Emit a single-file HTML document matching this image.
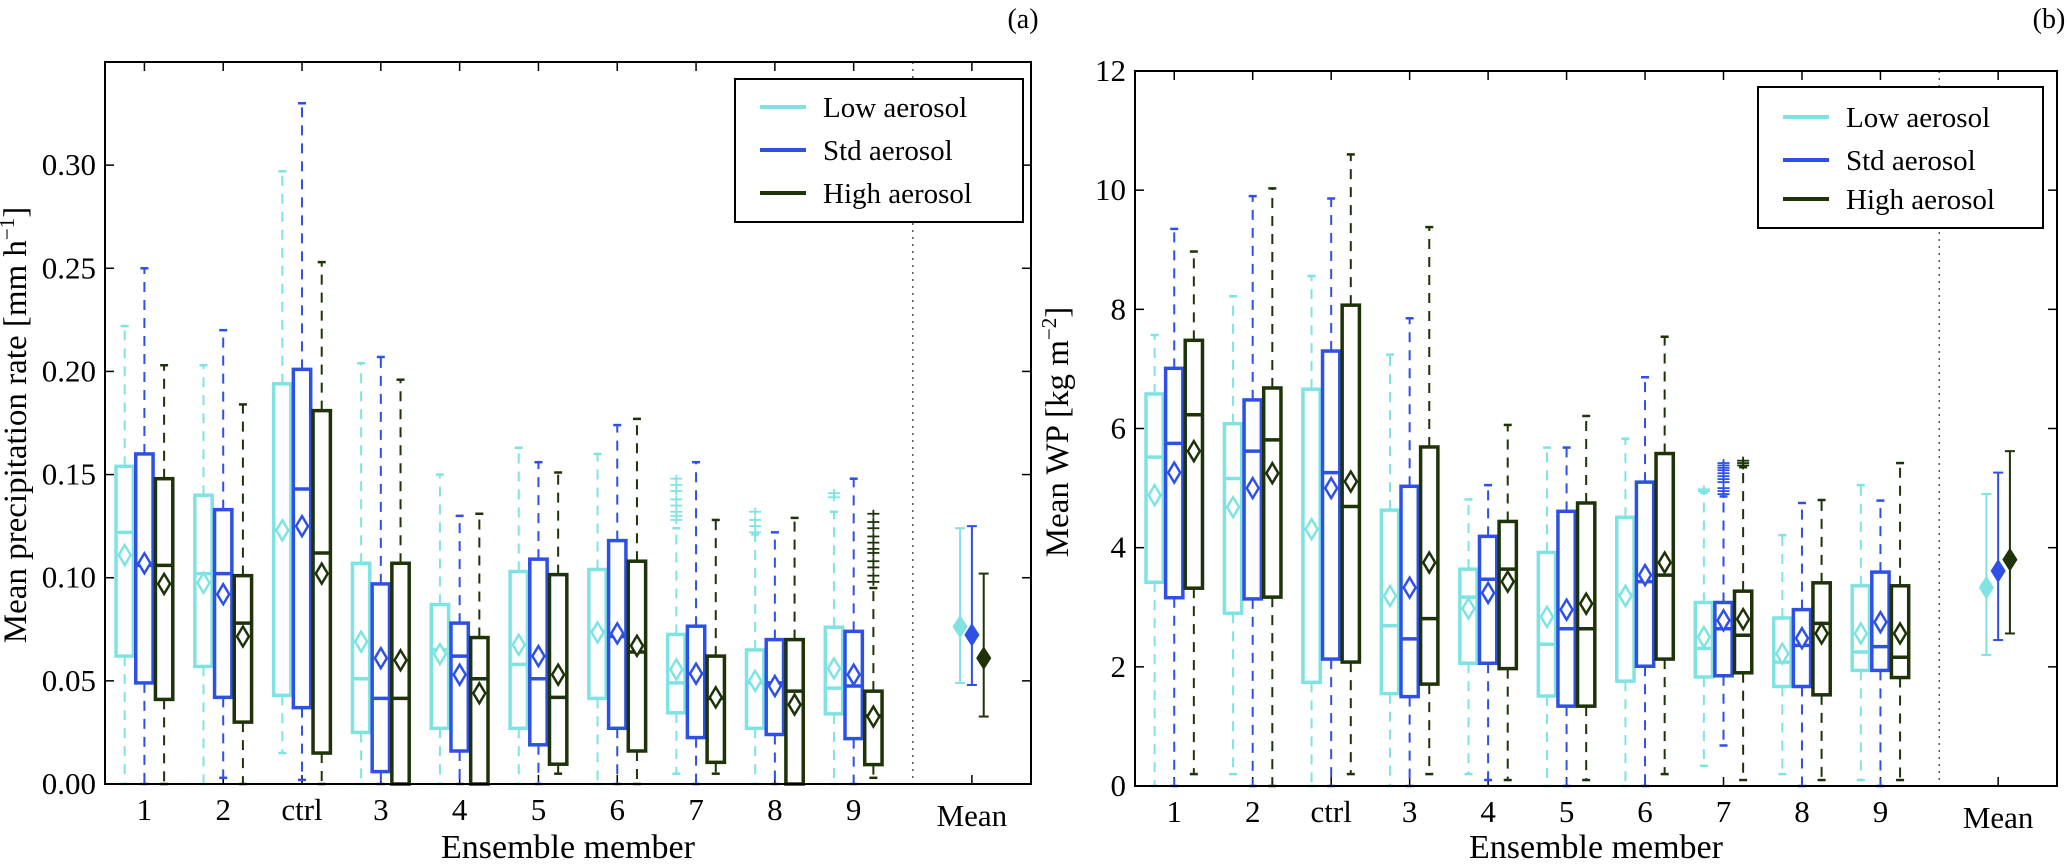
<!DOCTYPE html>
<html><head><meta charset="utf-8"><style>
body{margin:0;background:#fff}
svg{display:block}
svg text{font-family:"Liberation Serif","DejaVu Serif",serif}
</style></head><body>
<svg id="chart" width="2067" height="865" viewBox="0 0 2067 865" font-family="Liberation Serif, DejaVu Serif, serif">
<rect width="2067" height="865" fill="#fff"/>
</svg>
<script>
// ---------- shared ----------
const categories = ["1","2","ctrl","3","4","5","6","7","8","9"];
const seriesNames = ["Low aerosol","Std aerosol","High aerosol"];
// ---------- panel (a): precipitation ----------
const aTicks = ["0.00","0.05","0.10","0.15","0.20","0.25","0.30"];
const aLowWlo=[0,0,0.015,0,0,0,0,0.005,0,0];
const aLowQ1=[0.062,0.057,0.043,0.025,0.027,0.027,0.0415,0.0345,0.027,0.034];
const aLowMed=[0.122,0.102,0.123,0.051,0.065,0.058,0.074,0.049,0.049,0.0465];
const aLowQ3=[0.154,0.140,0.194,0.107,0.087,0.103,0.104,0.0725,0.065,0.076];
const aLowWhi=[0.222,0.203,0.297,0.204,0.150,0.163,0.160,0.124,0.121,0.132];
const aLowMean=[0.111,0.0975,0.123,0.069,0.063,0.0675,0.0735,0.0555,0.050,0.056];
const aLowOut=[[],[],[],[],[],[],[],[0.148,0.145,0.142,0.138,0.135,0.132,0.130,0.128],[0.132,0.128,0.125,0.122],[0.141,0.139]];
const aStdWlo=[0,0.003,0.002,0,0,0,0,0,0,0];
const aStdQ1=[0.049,0.042,0.037,0.006,0.016,0.019,0.027,0.0225,0.024,0.022];
const aStdMed=[0.106,0.102,0.143,0.0415,0.062,0.051,0.0715,0.0535,0.049,0.0475];
const aStdQ3=[0.160,0.133,0.201,0.097,0.078,0.109,0.118,0.0765,0.070,0.074];
const aStdWhi=[0.250,0.220,0.330,0.207,0.130,0.156,0.174,0.156,0.122,0.148];
const aStdMean=[0.107,0.092,0.125,0.061,0.053,0.062,0.073,0.0535,0.0475,0.053];
const aStdOut=[[],[],[],[],[],[],[],[],[],[]];
const aHighWlo=[0,0,0,0,0,0.005,0,0.005,0,0.003];
const aHighQ1=[0.041,0.030,0.015,0,0,0.0096,0.016,0.0105,0,0.0094];
const aHighMed=[0.106,0.078,0.112,0.0415,0.051,0.042,0.064,0.0415,0.045,0.033];
const aHighQ3=[0.148,0.101,0.181,0.107,0.071,0.1015,0.108,0.062,0.070,0.045];
const aHighWhi=[0.203,0.184,0.253,0.196,0.131,0.151,0.177,0.128,0.129,0.095];
const aHighMean=[0.097,0.0715,0.102,0.060,0.044,0.053,0.067,0.042,0.0385,0.0327];
const aHighOut=[[],[],[],[],[],[],[],[],[],[0.131,0.127,0.124,0.120,0.117,0.114,0.112,0.108,0.105,0.101,0.098]];
const aOverallMean=[0.0763,0.0723,0.061];
const aOverallHi=[0.124,0.125,0.102];
const aOverallLo=[0.049,0.048,0.0327];
// ---------- panel (b): water path ----------
const bTicks = ["0","2","4","6","8","10","12"];
const bLowWlo=[0,0.2,0,0,0.2,0,0,0.34,0.2,0.1];
const bLowQ1=[3.42,2.90,1.74,1.55,2.06,1.51,1.76,1.83,1.67,1.94];
const bLowMed=[5.52,5.16,4.31,2.69,3.17,2.38,3.21,2.31,2.08,2.25];
const bLowQ3=[6.58,6.08,6.66,4.63,3.64,3.92,4.51,3.08,2.82,3.36];
const bLowWhi=[7.57,8.22,8.56,7.24,4.81,5.68,5.83,4.92,4.21,5.05];
const bLowMean=[4.88,4.68,4.31,3.19,2.98,2.84,3.19,2.5,2.22,2.56];
const bLowOut=[[],[],[],[],[],[],[],[4.98,4.95],[],[]];
const bStdWlo=[0,0,0,0,0.1,0,0,0.68,0,0];
const bStdQ1=[3.16,3.14,2.13,1.5,2.06,1.34,2.01,1.85,1.67,1.94];
const bStdMed=[5.75,5.62,5.26,2.47,3.47,2.64,3.43,2.64,2.36,2.34];
const bStdQ3=[7.01,6.48,7.3,5.03,4.19,4.61,5.10,3.08,2.96,3.59];
const bStdWhi=[9.35,9.9,9.86,7.85,5.05,5.68,6.86,4.86,4.75,4.79];
const bStdMean=[5.26,5.0,5.0,3.33,3.24,2.96,3.54,2.78,2.48,2.75];
const bStdOut=[[],[],[],[],[],[],[],[5.42,5.38,5.34,5.3,5.25,5.2,5.15,5.1,5.0,4.95,4.9],[],[]];
const bHighWlo=[0.2,0,0.2,0.2,0.1,0.1,0.2,0.1,0.1,0.1];
const bHighQ1=[3.32,3.17,2.08,1.71,1.97,1.34,2.13,1.9,1.53,1.82];
const bHighMed=[6.23,5.81,4.69,2.81,3.64,2.64,3.54,2.53,2.73,2.16];
const bHighQ3=[7.48,6.68,8.07,5.69,4.44,4.75,5.58,3.27,3.41,3.36];
const bHighWhi=[8.97,10.03,10.6,9.38,6.06,6.21,7.54,5.35,4.8,5.42];
const bHighMean=[5.62,5.25,5.11,3.75,3.43,3.06,3.75,2.8,2.56,2.56];
const bHighOut=[[],[],[],[],[],[],[],[5.46,5.42,5.38],[],[]];
const bOverallMean=[3.33,3.61,3.8];
const bOverallHi=[4.9,5.26,5.62];
const bOverallLo=[2.2,2.45,2.56];

const NS="http://www.w3.org/2000/svg";
const svg=document.getElementById('chart');
const colors=["#7fe3e3","#2f50e6","#1e3308"];
const FONT="Liberation Serif, DejaVu Serif, serif";
function el(tag,attrs,parent){const e=document.createElementNS(NS,tag);for(const k in attrs)e.setAttribute(k,attrs[k]);if(tag==='text')e.setAttribute('font-family',FONT);(parent||svg).appendChild(e);return e;}

function drawPanel(P){
  const g=el('g',{});
  
  
  const X=v=>P.left+(v-0.5)/(12.25-0.5)*(P.right-P.left);
  const Y=v=>P.bottom-(v/P.ymax)*(P.bottom-P.top);
  P.ticks.forEach(t=>{
    const y=Y(parseFloat(t));
    el('line',{x1:P.left,x2:P.left+9,y1:y,y2:y,stroke:'#000','stroke-width':1.5},g);
    el('line',{x1:P.right,x2:P.right-9,y1:y,y2:y,stroke:'#000','stroke-width':1.5},g);
    const tx=el('text',{x:P.left-9,y:y+10,'text-anchor':'end','font-size':31},g);
    tx.textContent=t;
    
    
  });
  const xlabels=categories.concat(["Mean"]);
  xlabels.forEach((c,i)=>{
    const v=i<10?i+1:11.5;
    const x=X(v);
    el('line',{x1:x,x2:x,y1:P.bottom,y2:P.bottom-9,stroke:'#000','stroke-width':1.5},g);
    el('line',{x1:x,x2:x,y1:P.top,y2:P.top+9,stroke:'#000','stroke-width':1.5},g);
    const tx=el('text',{x:x,y:i<10?P.bottom+36:P.bottom+42,'text-anchor':'middle','font-size':31},g);
    tx.textContent=c;
    
    
  });
  const sx=X(10.75);
  const sep=el('line',{x1:sx,x2:sx,y1:P.top,y2:P.bottom,stroke:'#555','stroke-width':1.5,'stroke-dasharray':'2 5'},g);
  
  
  const offs=[-0.25,0,0.25], hw=0.11;
  P.series.forEach((S,s)=>{
    const c=colors[s];
    categories.forEach((cat,i)=>{
      const cx=X(i+1+offs[s]);
      const bg=el('g',{},g);
      
      
      const x0=X(i+1+offs[s]-hw),x1=X(i+1+offs[s]+hw);
      el('line',{x1:cx,x2:cx,y1:Y(S.q3[i]),y2:Y(S.whi[i]),stroke:c,'stroke-width':2,'stroke-dasharray':'10 8'},bg);
      el('line',{x1:cx,x2:cx,y1:Y(S.q1[i]),y2:Y(S.wlo[i]),stroke:c,'stroke-width':2,'stroke-dasharray':'10 8'},bg);
      el('line',{x1:cx-4,x2:cx+4,y1:Y(S.whi[i]),y2:Y(S.whi[i]),stroke:c,'stroke-width':2.5},bg);
      el('line',{x1:cx-4,x2:cx+4,y1:Y(S.wlo[i]),y2:Y(S.wlo[i]),stroke:c,'stroke-width':2.5},bg);
      el('rect',{x:x0,y:Y(S.q3[i]),width:x1-x0,height:Y(S.q1[i])-Y(S.q3[i]),fill:'none',stroke:c,'stroke-width':3.5},bg);
      el('line',{x1:x0,x2:x1,y1:Y(S.med[i]),y2:Y(S.med[i]),stroke:c,'stroke-width':3.5},bg);
      const my=Y(S.mean[i]);
      el('path',{d:`M${cx} ${my-10} L${cx+6} ${my} L${cx} ${my+10} L${cx-6} ${my} Z`,fill:'#fff',stroke:c,'stroke-width':2.5},bg);
      S.out[i].forEach(o=>{
        const oy=Y(o);
        el('line',{x1:cx-6,x2:cx+6,y1:oy,y2:oy,stroke:c,'stroke-width':1.8},bg);
        el('line',{x1:cx,x2:cx,y1:oy-4,y2:oy+4,stroke:c,'stroke-width':1.8},bg);
      });
    });
    const mo=[-0.15,0,0.15][s];
    const mx=X(11.5+mo);
    const mg=el('g',{},g);
    
    
    el('line',{x1:mx,x2:mx,y1:Y(P.omHi[s]),y2:Y(P.omLo[s]),stroke:c,'stroke-width':2},mg);
    el('line',{x1:mx-5,x2:mx+5,y1:Y(P.omHi[s]),y2:Y(P.omHi[s]),stroke:c,'stroke-width':2},mg);
    el('line',{x1:mx-5,x2:mx+5,y1:Y(P.omLo[s]),y2:Y(P.omLo[s]),stroke:c,'stroke-width':2},mg);
    const my=Y(P.om[s]);
    el('path',{d:`M${mx} ${my-11} L${mx+7} ${my} L${mx} ${my+11} L${mx-7} ${my} Z`,fill:c,stroke:c,'stroke-width':1},mg);
  });
  el('rect',{x:P.left,y:P.top,width:P.right-P.left,height:P.bottom-P.top,fill:'none',stroke:'#000','stroke-width':2},g);
  const L=P.legend;
  const lg=el('g',{},g);
  
  
  el('rect',{x:L.x,y:L.y,width:L.w,height:L.h,fill:'#fff',stroke:'#000','stroke-width':2},lg);
  seriesNames.forEach((n,s)=>{
    const yy=L.rows[s];
    el('line',{x1:L.x+25,x2:L.x+71,y1:yy,y2:yy,stroke:colors[s],'stroke-width':4},lg);
    const t=el('text',{x:L.x+88,y:yy+10,'font-size':29},lg);
    t.textContent=n;
    
    
  });
  const xl=el('text',{x:(P.left+P.right)/2,y:858,'text-anchor':'middle','font-size':34},g);
  xl.textContent="Ensemble member";
  
  
  const yl=el('text',{x:0,y:0,'text-anchor':'middle','font-size':33,transform:`translate(${P.ylabX},${P.ylabY}) rotate(-90)`},g);
  yl.innerHTML=P.ylab;
  
  
  const pl=el('text',{x:P.right-8,y:28,'text-anchor':'middle','font-size':28},g);
  pl.textContent=P.tag;
  
  
}

drawPanel({name:'panel-a-precipitation',left:105,right:1031,top:62,bottom:784,ymax:0.35,ticks:aTicks,
  series:[
    {wlo:aLowWlo,q1:aLowQ1,med:aLowMed,q3:aLowQ3,whi:aLowWhi,mean:aLowMean,out:aLowOut},
    {wlo:aStdWlo,q1:aStdQ1,med:aStdMed,q3:aStdQ3,whi:aStdWhi,mean:aStdMean,out:aStdOut},
    {wlo:aHighWlo,q1:aHighQ1,med:aHighMed,q3:aHighQ3,whi:aHighWhi,mean:aHighMean,out:aHighOut}],
  om:aOverallMean,omHi:aOverallHi,omLo:aOverallLo,
  legend:{x:735,y:79,w:288,h:143,rows:[107,150,193]},
  ylab:'Mean precipitation rate [mm h<tspan baseline-shift="super" font-size="21">−1</tspan>]',ylabX:26,ylabY:425,tag:'(a)'});
drawPanel({name:'panel-b-water-path',left:1135,right:2057,top:71,bottom:786,ymax:12,ticks:bTicks,
  series:[
    {wlo:bLowWlo,q1:bLowQ1,med:bLowMed,q3:bLowQ3,whi:bLowWhi,mean:bLowMean,out:bLowOut},
    {wlo:bStdWlo,q1:bStdQ1,med:bStdMed,q3:bStdQ3,whi:bStdWhi,mean:bStdMean,out:bStdOut},
    {wlo:bHighWlo,q1:bHighQ1,med:bHighMed,q3:bHighQ3,whi:bHighWhi,mean:bHighMean,out:bHighOut}],
  om:bOverallMean,omHi:bOverallHi,omLo:bOverallLo,
  legend:{x:1758,y:87,w:285,h:141,rows:[117,160,199]},
  ylab:'Mean  WP [kg m<tspan baseline-shift="super" font-size="21">−2</tspan>]',ylabX:1068,ylabY:432,tag:'(b)'});
</script>
</body></html>
